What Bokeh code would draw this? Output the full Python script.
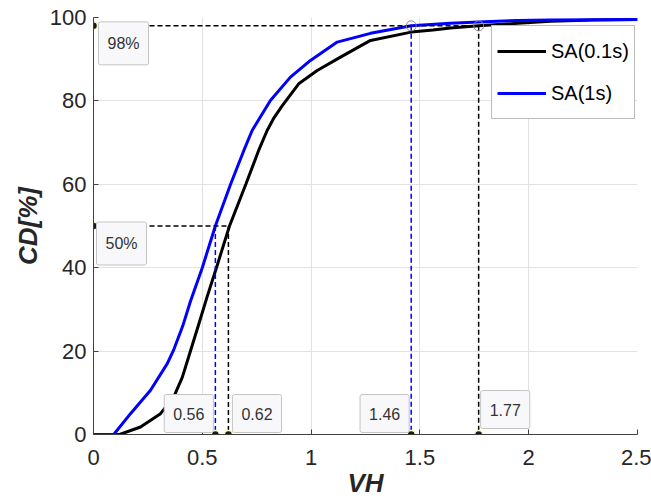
from bokeh.plotting import figure
from bokeh.models import Range1d, FixedTicker, Label, Legend, LegendItem
from bokeh.embed import file_html
from bokeh.resources import INLINE

# ---- data ----
sa01_x = [0, 0.12, 0.216, 0.308, 0.369, 0.408, 0.446, 0.484, 0.522, 0.565, 0.625,
          0.70, 0.758, 0.798, 0.83, 0.867, 0.943, 1.028, 1.135, 1.273, 1.46, 1.56, 1.64,
          1.77, 1.95, 2.1, 2.3, 2.5]
sa01_y = [0, 0, 1.8, 5, 9, 13.7, 20.1, 26.5, 33, 40, 50,
          60, 68, 72.9, 76, 78.8, 84.1, 87.3, 90.5, 94.5, 96.5, 97, 97.5,
          98, 98.6, 99.1, 99.4, 99.5]
sa1_x = [0, 0.093, 0.17, 0.262, 0.339, 0.37, 0.41, 0.446, 0.50, 0.56, 0.63, 0.69, 0.729,
         0.813, 0.905, 0.997, 1.12, 1.273, 1.46, 1.64, 1.77, 1.95, 2.1, 2.5]
sa1_y = [0, 0, 5, 10.6, 17, 20.5, 26, 32, 40, 50, 60, 68, 72.9,
         80.1, 85.7, 89.7, 94.1, 96.2, 98, 98.6, 98.9, 99.3, 99.4, 99.5]

series_names = ["SA(0.1s)", "SA(1s)"]
levels = [50, 98]
level_labels = ["50%", "98%"]
sa01_q = [0.62, 1.77]
sa1_q = [0.56, 1.46]

x_ticks = [0, 0.5, 1, 1.5, 2, 2.5]
x_tick_labels = ["0", "0.5", "1", "1.5", "2", "2.5"]
y_ticks = [0, 20, 40, 60, 80, 100]
y_tick_labels = ["0", "20", "40", "60", "80", "100"]

FONT = "Liberation Sans"

p = figure(frame_width=544, frame_height=417,
           x_range=Range1d(0, 2.5), y_range=Range1d(0, 100),
           output_backend="svg", toolbar_location=None)
p.min_border_left = 93
p.min_border_right = 14
p.min_border_top = 17
p.min_border_bottom = 67
p.outline_line_color = None
p.background_fill_color = "white"
p.border_fill_color = "white"

p.xaxis.ticker = FixedTicker(ticks=x_ticks)
p.yaxis.ticker = FixedTicker(ticks=y_ticks)
p.xaxis.major_label_overrides = {t: l for t, l in zip(x_ticks, x_tick_labels)}
p.yaxis.major_label_overrides = {t: l for t, l in zip(y_ticks, y_tick_labels)}
for ax in (p.xaxis, p.yaxis):
    ax.major_tick_in = 5
    ax.major_tick_out = 0
    ax.minor_tick_in = 0
    ax.minor_tick_out = 0
    ax.axis_line_color = "#404040"
    ax.major_tick_line_color = "#404040"
    ax.major_label_text_font = FONT
    ax.major_label_text_font_size = "22px"
    ax.major_label_text_color = "#262626"
    ax.axis_label_text_font = FONT
    ax.axis_label_text_font_size = "26px"
    ax.axis_label_text_font_style = "bold italic"
    ax.axis_label_text_color = "#262626"
p.xaxis.major_label_standoff = 15
p.yaxis.major_label_standoff = 7
p.xaxis.axis_label = "VH"
p.yaxis.axis_label = "CD[%]"
p.xaxis.axis_label_standoff = 0
p.yaxis.axis_label_standoff = 4

p.xgrid.grid_line_color = "#e2e2e2"
p.ygrid.grid_line_color = "#e2e2e2"

# curves
r_black = p.line(sa01_x, sa01_y, line_color="black", line_width=3)
r_blue = p.line(sa1_x, sa1_y, line_color="#0000ff", line_width=3)

# reference dashed lines
dash = "5 3"
p.line([0, sa01_q[1]], [levels[1], levels[1]], line_color="black", line_dash=dash, line_width=1.5)
p.line([0, sa01_q[0]], [levels[0], levels[0]], line_color="black", line_dash=dash, line_width=1.5)
p.line([sa01_q[1], sa01_q[1]], [levels[1], 0], line_color="black", line_dash=dash, line_width=1.5)
p.line([sa01_q[0], sa01_q[0]], [levels[0], 0], line_color="black", line_dash=dash, line_width=1.5)
p.line([sa1_q[1], sa1_q[1]], [levels[1], 0], line_color="#0000ff", line_dash=dash, line_width=1.5)
p.line([sa1_q[0], sa1_q[0]], [levels[0], 0], line_color="#0000ff", line_dash=dash, line_width=1.5)

# open circles at 98%
p.scatter([sa1_q[1], sa01_q[1]], [levels[1], levels[1]], marker="circle", size=10,
          fill_color=None, line_color="#8a8a8a", line_width=1)

# datatip dots
p.scatter([0, 0], levels, marker="circle", size=8, fill_color="#1a1a1a",
          line_color="#fff8c8", line_width=1.5)
p.scatter(sa1_q + sa01_q, [0, 0, 0, 0], marker="circle", size=8, fill_color="#1a1a1a",
          line_color="#fff8c8", line_width=1.5)

tip = dict(text_font=FONT, text_font_size="16px", text_color="#333333",
           background_fill_color="#f8f8fa", border_line_color="#c4c4c4",
           border_line_width=1, padding=dict(left=9, right=9, top=13, bottom=13),
           border_radius=2, text_baseline="bottom")

# level tips (left)
p.add_layout(Label(x=0, y=levels[1], text=level_labels[1], x_offset=5, y_offset=-39,
                   text_align="left", **tip))
p.add_layout(Label(x=0, y=levels[0], text=level_labels[0], x_offset=3, y_offset=-39,
                   text_align="left", **tip))
# quantile tips (bottom)
p.add_layout(Label(x=sa1_q[0], y=0, text=f"{sa1_q[0]:.2f}", x_offset=-2, y_offset=2,
                   text_align="right", **tip))
p.add_layout(Label(x=sa01_q[0], y=0, text=f"{sa01_q[0]:.2f}", x_offset=4, y_offset=2,
                   text_align="left", **tip))
p.add_layout(Label(x=sa1_q[1], y=0, text=f"{sa1_q[1]:.2f}", x_offset=-2, y_offset=2,
                   text_align="right", **tip))
p.add_layout(Label(x=sa01_q[1], y=0, text=f"{sa01_q[1]:.2f}", x_offset=2, y_offset=6,
                   text_align="left", **tip))

legend = Legend(items=[LegendItem(label=series_names[0], renderers=[r_black]),
                       LegendItem(label=series_names[1], renderers=[r_blue])],
                location=(398, 315), margin=0, padding=5, spacing=2,
                glyph_width=49, glyph_height=40, label_height=40, label_standoff=5,
                label_text_font=FONT, label_text_font_size="20px",
                label_text_color="black", border_line_color="#777777",
                border_line_width=1, background_fill_color="white",
                background_fill_alpha=1)
p.add_layout(legend)

open("out.html", "w").write(file_html(p, INLINE))
